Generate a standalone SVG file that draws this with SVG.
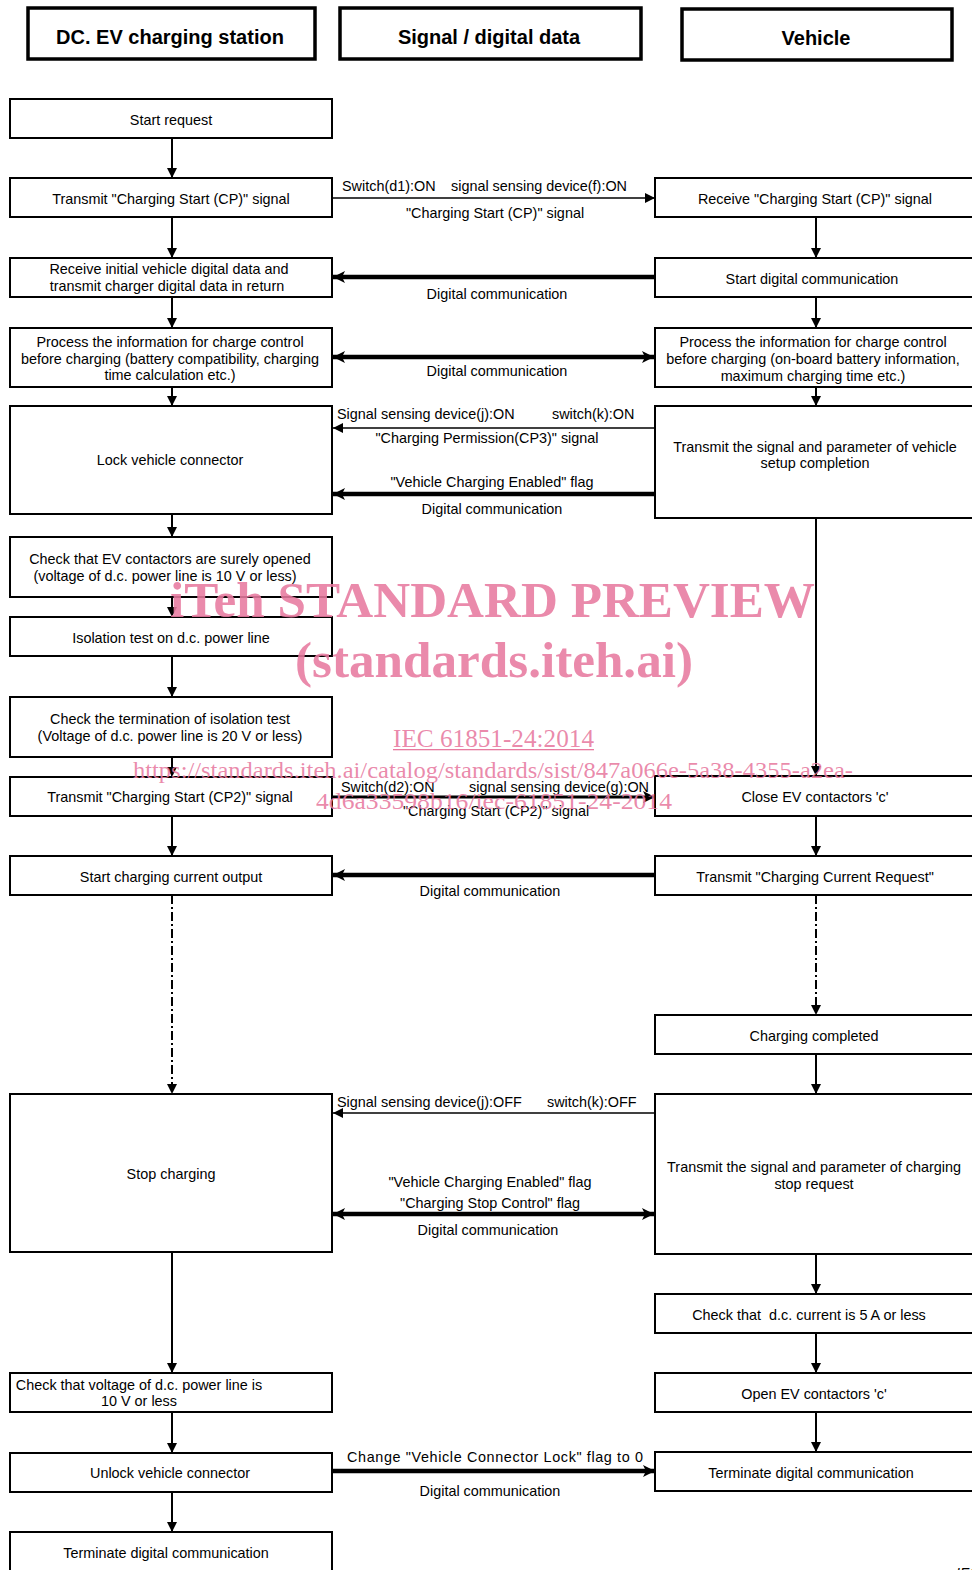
<svg xmlns="http://www.w3.org/2000/svg" width="972" height="1570" viewBox="0 0 972 1570">
<style>
.hdr{fill:#fff;stroke:#000;stroke-width:3.5}
.bx{fill:#fff;stroke:#000;stroke-width:2}
.ht{font-family:"Liberation Sans",Arial,sans-serif;font-size:20px;font-weight:bold;text-anchor:middle;fill:#000}
.t{font-family:"Liberation Sans",Arial,sans-serif;font-size:14.4px;text-anchor:middle;fill:#000}
.ts{font-family:"Liberation Sans",Arial,sans-serif;font-size:14.4px;fill:#000}
.v{stroke:#000;stroke-width:2;fill:none;marker-end:url(#ah)}
.vd{stroke:#000;stroke-width:2;fill:none;stroke-dasharray:9 3 2 3;marker-end:url(#ah)}
.thin{stroke:#000;stroke-width:1.6;fill:none;marker-end:url(#ah)}
.med{stroke:#000;stroke-width:3;fill:none;marker-end:url(#ahb)}
.thick{stroke:#000;stroke-width:4.5;fill:none;marker-end:url(#ahb)}
.dbl{stroke:#000;stroke-width:4.5;fill:none;marker-end:url(#ahb);marker-start:url(#ahbs)}
.wm{font-family:"Liberation Serif","Times New Roman",serif;fill:#e77a9f;fill-opacity:0.88}
</style>
<defs>
<marker id="ah" markerUnits="userSpaceOnUse" markerWidth="12" markerHeight="12" refX="10" refY="5" orient="auto">
<path d="M0,0 L10,5 L0,10 Z" fill="#000"/>
</marker>
<marker id="ahb" markerUnits="userSpaceOnUse" markerWidth="14" markerHeight="14" refX="12" refY="6" orient="auto">
<path d="M0,0 L12,6 L0,12 L3,6 Z" fill="#000"/>
</marker>
<marker id="ahbs" markerUnits="userSpaceOnUse" markerWidth="14" markerHeight="14" refX="0" refY="6" orient="auto">
<path d="M12,0 L0,6 L12,12 L9,6 Z" fill="#000"/>
</marker>
</defs>
<rect width="972" height="1570" fill="#fff"/>

<g id="headers">
<g id="h-station"><rect class="hdr" x="28" y="8" width="287" height="51"/><text class="ht" x="170" y="44">DC. EV charging station</text></g>
<g id="h-signal"><rect class="hdr" x="340" y="8" width="301" height="51"/><text class="ht" x="489" y="44">Signal / digital data</text></g>
<g id="h-vehicle"><rect class="hdr" x="682" y="9" width="270" height="51"/><text class="ht" x="816" y="45">Vehicle</text></g>
</g>

<g id="connectors">
<line class="v" x1="172" y1="138" x2="172" y2="178"/>
<line class="v" x1="172" y1="217" x2="172" y2="258"/>
<line class="v" x1="172" y1="297" x2="172" y2="328"/>
<line class="v" x1="172" y1="387" x2="172" y2="406"/>
<line class="v" x1="172" y1="514" x2="172" y2="537"/>
<line class="v" x1="172" y1="597" x2="172" y2="617"/>
<line class="v" x1="172" y1="656" x2="172" y2="697"/>
<line class="v" x1="172" y1="757" x2="172" y2="777"/>
<line class="v" x1="172" y1="816" x2="172" y2="856"/>
<line class="vd" x1="172" y1="895" x2="172" y2="1094"/>
<line class="v" x1="172" y1="1252" x2="172" y2="1373"/>
<line class="v" x1="172" y1="1412" x2="172" y2="1453"/>
<line class="v" x1="172" y1="1492" x2="172" y2="1532"/>
<line class="v" x1="816" y1="217" x2="816" y2="258"/>
<line class="v" x1="816" y1="297" x2="816" y2="328"/>
<line class="v" x1="816" y1="387" x2="816" y2="406"/>
<line class="v" x1="816" y1="518" x2="816" y2="776"/>
<line class="v" x1="816" y1="816" x2="816" y2="856"/>
<line class="vd" x1="816" y1="895" x2="816" y2="1015"/>
<line class="v" x1="816" y1="1054" x2="816" y2="1094"/>
<line class="v" x1="816" y1="1254" x2="816" y2="1294"/>
<line class="v" x1="816" y1="1333" x2="816" y2="1373"/>
<line class="v" x1="816" y1="1412" x2="816" y2="1452"/>
<line class="thin" x1="332" y1="198" x2="655" y2="198"/>
<line class="thick" x1="655" y1="277" x2="333" y2="277"/>
<line class="dbl" x1="333" y1="357" x2="654" y2="357"/>
<line class="thin" x1="655" y1="428" x2="333" y2="428"/>
<line class="thick" x1="655" y1="494" x2="333" y2="494"/>
<line class="med" x1="332" y1="797" x2="655" y2="797"/>
<line class="thick" x1="655" y1="875" x2="333" y2="875"/>
<line class="thin" x1="655" y1="1113" x2="333" y2="1113"/>
<line class="dbl" x1="333" y1="1214" x2="654" y2="1214"/>
<line class="thick" x1="332" y1="1471" x2="655" y2="1471"/>
</g>

<g id="labels">
<text class="ts" x="342" y="191">Switch(d1):ON</text>
<text class="ts" x="451" y="191">signal sensing device(f):ON</text>
<text class="t" x="495" y="218">"Charging Start (CP)" signal</text>
<text class="t" x="497" y="299">Digital communication</text>
<text class="t" x="497" y="376">Digital communication</text>
<text class="ts" x="337" y="419">Signal sensing device(j):ON</text>
<text class="ts" x="552" y="419">switch(k):ON</text>
<text class="t" x="487" y="443">"Charging Permission(CP3)" signal</text>
<text class="t" x="492" y="487">"Vehicle Charging Enabled" flag</text>
<text class="t" x="492" y="514">Digital communication</text>
<text class="ts" x="341" y="792">Switch(d2):ON</text>
<text class="ts" x="469" y="792">signal sensing device(g):ON</text>
<text class="t" x="496" y="816">"Charging Start (CP2)" signal</text>
<text class="t" x="490" y="896">Digital communication</text>
<text class="ts" x="337" y="1107">Signal sensing device(j):OFF</text>
<text class="ts" x="547" y="1107">switch(k):OFF</text>
<text class="t" x="490" y="1187">"Vehicle Charging Enabled" flag</text>
<text class="t" x="490" y="1208">"Charging Stop Control" flag</text>
<text class="t" x="488" y="1235">Digital communication</text>
<text class="t" x="495" y="1462" textLength="296" lengthAdjust="spacing">Change "Vehicle Connector Lock" flag to 0</text>
<text class="t" x="490" y="1496">Digital communication</text>
</g>

<g id="n-start-request"><rect class="bx" x="10" y="99" width="322" height="39"/><text class="t" x="171" y="125">Start request</text></g>
<g id="n-transmit-cp"><rect class="bx" x="10" y="178" width="322" height="39"/><text class="t" x="171" y="204">Transmit "Charging Start (CP)" signal</text></g>
<g id="n-receive-initial"><rect class="bx" x="10" y="258" width="322" height="39"/><text class="t" x="169" y="274">Receive initial vehicle digital data and</text><text class="t" x="167" y="291">transmit charger digital data in return</text></g>
<g id="n-process-left"><rect class="bx" x="10" y="328" width="322" height="59"/><text class="t" x="170" y="347">Process the information for charge control</text><text class="t" x="170" y="364">before charging (battery compatibility, charging</text><text class="t" x="170" y="380">time calculation etc.)</text></g>
<g id="n-lock"><rect class="bx" x="10" y="406" width="322" height="108"/><text class="t" x="170" y="465">Lock vehicle connector</text></g>
<g id="n-check-open"><rect class="bx" x="10" y="537" width="322" height="60"/><text class="t" x="170" y="564">Check that EV contactors are surely opened</text><text class="t" x="165" y="581">(voltage of d.c. power line is 10 V or less)</text></g>
<g id="n-isolation"><rect class="bx" x="10" y="617" width="322" height="39"/><text class="t" x="171" y="643">Isolation test on d.c. power line</text></g>
<g id="n-check-term"><rect class="bx" x="10" y="697" width="322" height="60"/><text class="t" x="170" y="724">Check the termination of isolation test</text><text class="t" x="170" y="741">(Voltage of d.c. power line is 20 V or less)</text></g>
<g id="n-transmit-cp2"><rect class="bx" x="10" y="777" width="322" height="39"/><text class="t" x="170" y="802">Transmit "Charging Start (CP2)" signal</text></g>
<g id="n-start-output"><rect class="bx" x="10" y="856" width="322" height="39"/><text class="t" x="171" y="882">Start charging current output</text></g>
<g id="n-stop"><rect class="bx" x="10" y="1094" width="322" height="158"/><text class="t" x="171" y="1179">Stop charging</text></g>
<g id="n-check-voltage"><rect class="bx" x="10" y="1373" width="322" height="39"/><text class="t" x="139" y="1390">Check that voltage of d.c. power line is</text><text class="t" x="139" y="1406">10 V or less</text></g>
<g id="n-unlock"><rect class="bx" x="10" y="1453" width="322" height="39"/><text class="t" x="170" y="1478">Unlock vehicle connector</text></g>
<g id="n-terminate-left"><rect class="bx" x="10" y="1532" width="322" height="50"/><text class="t" x="166" y="1558">Terminate digital communication</text></g>

<g id="n-receive-cp"><rect class="bx" x="655" y="178" width="330" height="39"/><text class="t" x="815" y="204">Receive "Charging Start (CP)" signal</text></g>
<g id="n-start-digital"><rect class="bx" x="655" y="258" width="330" height="39"/><text class="t" x="812" y="284">Start digital communication</text></g>
<g id="n-process-right"><rect class="bx" x="655" y="328" width="330" height="59"/><text class="t" x="813" y="347">Process the information for charge control</text><text class="t" x="813" y="364">before charging (on-board battery information,</text><text class="t" x="813" y="381">maximum charging time etc.)</text></g>
<g id="n-setup-complete"><rect class="bx" x="655" y="406" width="330" height="112"/><text class="t" x="815" y="452">Transmit the signal and parameter of vehicle</text><text class="t" x="815" y="468">setup completion</text></g>
<g id="n-close"><rect class="bx" x="655" y="776" width="330" height="40"/><text class="t" x="815" y="802">Close EV contactors 'c'</text></g>
<g id="n-current-request"><rect class="bx" x="655" y="856" width="330" height="39"/><text class="t" x="815" y="882">Transmit "Charging Current Request"</text></g>
<g id="n-completed"><rect class="bx" x="655" y="1015" width="330" height="39"/><text class="t" x="814" y="1041">Charging completed</text></g>
<g id="n-stop-request"><rect class="bx" x="655" y="1094" width="330" height="160"/><text class="t" x="814" y="1172">Transmit the signal and parameter of charging</text><text class="t" x="814" y="1189">stop request</text></g>
<g id="n-check-current"><rect class="bx" x="655" y="1294" width="330" height="39"/><text class="t" x="809" y="1320" xml:space="preserve">Check that  d.c. current is 5 A or less</text></g>
<g id="n-open"><rect class="bx" x="655" y="1373" width="330" height="39"/><text class="t" x="814" y="1399">Open EV contactors 'c'</text></g>
<g id="n-terminate-right"><rect class="bx" x="655" y="1452" width="330" height="39"/><text class="t" x="811" y="1478">Terminate digital communication</text></g>

<text x="956" y="1578" font-family="Liberation Sans,Arial,sans-serif" font-size="14" font-style="italic" fill="#000">IEC</text>

<g id="watermark">
<text class="wm" x="170" y="617" font-size="50" font-weight="bold" textLength="645" lengthAdjust="spacingAndGlyphs">iTeh STANDARD PREVIEW</text>
<text class="wm" x="295" y="677" font-size="50" font-weight="bold" textLength="398" lengthAdjust="spacingAndGlyphs">(standards.iteh.ai)</text>
<text class="wm" x="393" y="747" font-size="26" textLength="201" lengthAdjust="spacingAndGlyphs">IEC 61851-24:2014</text>
<rect x="393" y="749" width="201" height="1.3" fill="#e77a9f"/>
<text class="wm" x="133" y="778" font-size="24" textLength="720" lengthAdjust="spacingAndGlyphs">https://standards.iteh.ai/catalog/standards/sist/847a066e-5a38-4355-a2ea-</text>
<text class="wm" x="316" y="809" font-size="24" textLength="356" lengthAdjust="spacingAndGlyphs">4d6a33598b16/iec-61851-24-2014</text>
</g>
</svg>
